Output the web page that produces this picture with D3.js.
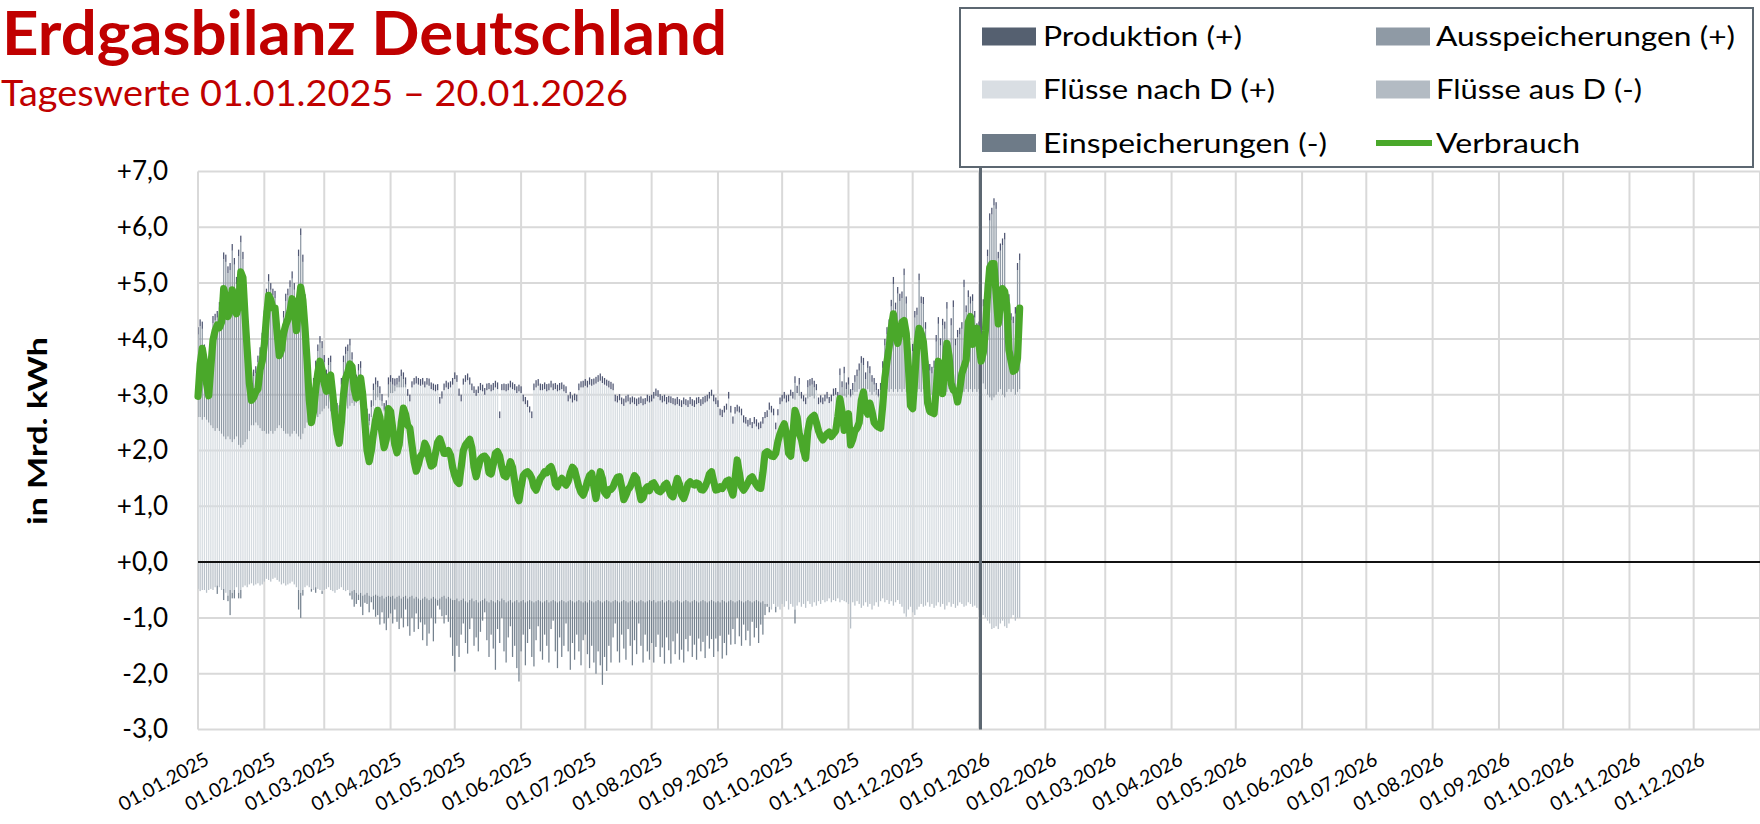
<!DOCTYPE html>
<html><head><meta charset="utf-8">
<script src="https://cdn.jsdelivr.net/npm/d3@7"></script>
<style>body{margin:0;background:#fff}svg{display:block}</style>
</head><body>
<svg id="c" width="1760" height="824"></svg>
<script>
// ---------- DATA (daily values, Mrd. kWh) ----------
const startDate = "2025-01-01";
const tickLabels = ["01.01.2025","01.02.2025","01.03.2025","01.04.2025","01.05.2025","01.06.2025","01.07.2025","01.08.2025","01.09.2025","01.10.2025","01.11.2025","01.12.2025","01.01.2026","01.02.2026","01.03.2026","01.04.2026","01.05.2026","01.06.2026","01.07.2026","01.08.2026","01.09.2026","01.10.2026","01.11.2026","01.12.2026"];
const yTicks = [7,6,5,4,3,2,1,0,-1,-2,-3];
const seriesNames = ["Produktion (+)","Ausspeicherungen (+)","Flüsse nach D (+)","Flüsse aus D (-)","Einspeicherungen (-)","Verbrauch"];

const verbrauch = [
2.97,3.55,3.83,3.6,3.2,2.98,3.5,3.98,4.15,4.25,4.2,4.3,4.9,4.75,4.4,4.5,4.88,4.75,4.45,4.6,5.2,5.1,4.4,3.8,3.2,2.9,2.95,3.05,3.1,3.45,3.6,
3.9,4.4,4.78,4.7,4.55,4.55,4.1,3.7,3.8,4.1,4.25,4.35,4.5,4.72,4.5,4.15,4.6,4.93,4.7,4.2,3.6,2.9,2.5,2.7,3.1,3.4,3.6,3.45,
3.2,3.06,3.3,3.35,3.0,2.6,2.3,2.13,2.5,3.0,3.3,3.4,3.55,3.5,3.1,2.94,3.15,3.3,3.0,2.5,2.0,1.8,2.0,2.3,2.55,2.72,2.6,2.3,2.05,2.2,2.75,
2.7,2.4,2.1,1.96,2.1,2.5,2.76,2.65,2.45,2.4,2.1,1.8,1.63,1.75,1.9,1.95,2.13,2.05,1.85,1.72,1.75,1.95,2.15,2.21,2.1,1.95,1.95,2.0,1.92,1.7,
1.55,1.45,1.41,1.7,2.0,2.1,2.15,2.2,2.05,1.7,1.53,1.7,1.85,1.89,1.9,1.85,1.6,1.58,1.75,1.95,1.98,1.9,1.7,1.55,1.53,1.65,1.8,1.7,1.45,1.2,1.1,
1.35,1.55,1.6,1.62,1.58,1.5,1.35,1.29,1.4,1.5,1.55,1.62,1.6,1.68,1.71,1.6,1.4,1.35,1.45,1.5,1.42,1.38,1.45,1.6,1.7,1.65,1.5,1.35,1.25,1.2,
1.3,1.45,1.55,1.59,1.35,1.14,1.4,1.62,1.5,1.25,1.2,1.3,1.3,1.35,1.45,1.52,1.53,1.35,1.12,1.2,1.3,1.35,1.45,1.55,1.5,1.3,1.12,1.15,1.3,1.35,1.28,
1.4,1.42,1.35,1.28,1.26,1.3,1.38,1.41,1.3,1.2,1.17,1.35,1.5,1.4,1.2,1.14,1.25,1.4,1.44,1.4,1.38,1.42,1.4,1.3,1.29,1.35,1.45,1.58,1.62,1.45,1.29,
1.3,1.35,1.32,1.38,1.45,1.47,1.3,1.2,1.5,1.83,1.6,1.35,1.29,1.35,1.42,1.5,1.53,1.45,1.38,1.33,1.32,1.6,1.95,1.98,1.95,1.9,1.89,1.95,2.16,2.3,
2.4,2.48,2.3,1.95,1.9,2.3,2.72,2.6,2.3,2.2,2.0,1.86,2.35,2.55,2.6,2.63,2.5,2.35,2.25,2.19,2.25,2.3,2.33,2.25,2.3,2.35,2.6,2.93,2.7,2.36,2.5,
2.66,2.1,2.2,2.35,2.4,2.5,2.9,3.05,2.75,2.65,2.85,2.7,2.5,2.45,2.42,2.4,2.8,3.3,3.6,3.85,4.2,4.45,4.1,3.92,4.1,4.3,4.33,4.1,3.5,2.8,
2.75,3.3,3.9,4.19,4.1,3.95,3.5,2.85,2.7,2.68,2.66,3.1,3.6,3.4,3.02,3.5,3.92,3.7,3.2,3.08,3.05,2.87,3.1,3.38,3.5,3.62,4.3,4.4,3.9,4.05,4.19,
3.9,3.6,3.75,4.15,4.8,5.28,5.35,5.35,4.8,4.27,4.6,4.9,4.85,4.6,3.8,3.6,3.42,3.45,3.65,4.55
];

const fluesseNachD = [
2.6,2.6,2.55,2.6,2.55,2.5,2.45,2.4,2.35,2.4,2.35,2.3,2.25,2.2,2.25,2.2,2.15,2.2,2.25,2.1,2.05,2.1,2.15,2.2,2.35,2.45,2.45,2.5,2.45,2.4,2.35,
2.35,2.3,2.3,2.35,2.3,2.35,2.4,2.45,2.4,2.35,2.3,2.3,2.25,2.3,2.35,2.3,2.25,2.2,2.3,2.4,2.5,2.6,2.65,2.7,2.65,2.6,2.65,2.7,
2.75,2.8,2.75,2.7,2.75,2.7,2.65,2.6,2.7,2.75,2.8,2.75,2.8,2.85,2.8,2.85,2.9,2.85,2.8,2.6,2.5,2.45,2.6,2.8,2.9,2.95,2.9,2.8,2.7,2.75,2.95,
3.03,3.03,3.06,3.13,3.13,3.13,3.13,3.13,2.98,2.88,3.13,3.18,3.2,3.18,3.16,3.18,3.13,3.18,3.16,3.1,3.08,3.06,3.08,2.84,2.93,3.08,3.13,3.1,3.13,3.18,
3.28,3.23,2.98,2.88,3.18,3.23,3.26,3.18,3.08,3.03,2.98,3.03,3.08,3.06,3.0,3.08,3.1,3.06,3.08,3.13,3.1,2.58,3.08,3.08,3.06,3.08,3.13,3.1,3.08,3.03,3.06,
3.03,2.88,2.83,2.78,2.68,2.58,3.08,3.13,3.16,3.08,3.08,3.1,3.06,3.08,3.13,3.08,3.1,3.06,3.08,3.1,3.06,3.03,2.88,2.93,2.86,2.9,2.88,3.08,3.13,3.13,
3.16,3.13,3.18,3.16,3.18,3.2,3.23,3.25,3.21,3.18,3.16,3.13,3.1,3.08,2.88,2.86,2.9,2.83,2.8,2.86,2.88,2.83,2.86,2.83,2.8,2.83,2.85,2.81,2.83,2.88,2.86,
2.88,2.93,2.98,2.96,2.9,2.86,2.88,2.83,2.86,2.85,2.83,2.81,2.83,2.8,2.78,2.83,2.81,2.78,2.83,2.8,2.78,2.83,2.85,2.8,2.83,2.86,2.88,2.93,2.98,2.88,2.83,
2.78,2.63,2.6,2.68,2.73,2.93,2.68,2.48,2.66,2.7,2.68,2.63,2.5,2.48,2.43,2.46,2.4,2.48,2.43,2.38,2.4,2.48,2.58,2.6,2.73,2.68,2.63,2.38,2.63,2.83,
2.88,2.93,2.86,2.88,2.98,2.93,2.91,3.03,2.98,2.93,2.88,2.83,2.93,2.96,2.98,2.93,3.08,2.83,2.86,2.83,2.88,2.93,2.85,2.88,2.98,3.0,2.93,2.9,2.93,2.98,2.95,
3.0,2.95,3.0,3.05,3.05,3.1,3.05,3.1,3.05,3.1,3.05,3.0,3.05,3.0,2.95,3.0,3.05,3.1,3.1,3.05,3.1,3.05,3.1,3.05,3.1,3.05,3.1,3.05,3.0,3.05,
3.05,3.1,3.05,3.1,3.05,3.1,3.05,3.0,3.05,3.0,3.05,3.1,3.05,3.1,3.05,3.1,3.05,3.1,3.05,3.1,3.05,3.0,3.05,3.1,3.05,3.1,3.05,3.1,3.05,3.1,3.05,
3.1,3.15,3.2,3.1,3.0,2.95,2.9,2.95,3.0,3.05,3.1,3.0,2.95,3.05,3.1,3.05,3.1,3.0,3.05,3.1
];

const ausspeicherungen = [
1.48,1.63,1.63,1.18,0.88,0.88,1.43,1.88,1.98,1.98,2.18,2.38,3.18,3.18,2.93,3.03,3.43,3.13,2.73,3.38,3.68,3.33,2.63,1.98,1.23,0.83,0.88,0.88,1.13,1.33,1.63,
2.03,2.48,2.73,2.53,2.48,2.38,1.88,1.33,1.58,2.03,2.38,2.48,2.68,2.78,2.53,2.28,3.23,3.66,3.08,2.28,1.38,0.68,0.33,0.48,0.83,1.18,1.28,1.13,
0.83,0.53,0.78,0.88,0.43,0.18,0.08,0.08,0.48,0.83,0.93,1.03,1.08,0.78,0.58,0.38,0.53,0.63,0.38,0.23,0.13,0.08,0.18,0.28,0.28,0.18,0.13,0.08,0.03,0.03,0.23,
0.2,0.15,0.1,0.05,0.1,0.2,0.15,0.05,0,0,0,0,0,0,0,0,0,0,0,0,0,0,0,0,0,0,0,0,0,0,
0,0,0,0,0,0,0,0,0,0,0,0,0,0,0,0,0,0,0,0,0,0,0,0,0,0,0,0,0,0,0,
0,0,0,0,0,0,0,0,0,0,0,0,0,0,0,0,0,0,0,0,0,0,0,0,0,0,0,0,0,0,
0,0,0,0,0,0,0,0,0,0,0,0,0,0,0,0,0,0,0,0,0,0,0,0,0,0,0,0,0,0,0,
0,0,0,0,0,0,0,0,0,0,0,0,0,0,0,0,0,0,0,0,0,0,0,0,0,0,0,0,0,0,0,
0,0,0,0,0,0,0,0,0,0,0,0,0,0,0,0,0,0,0,0,0,0,0,0,0,0,0,0,0,0,
0,0,0,0,0,0,0.3,0,0.2,0,0,0,0.2,0.2,0.2,0.2,0,0,0,0,0,0,0,0,0,0,0,0.45,0.2,0.4,0.15,
0.18,0.03,0.08,0.18,0.28,0.33,0.52,0.43,0.23,0.38,0.33,0.23,0.13,0.08,0.03,0.08,0.43,0.78,0.98,1.18,1.48,1.93,1.43,1.76,1.58,1.68,2.04,1.58,1.03,0.28,
0.73,1.28,1.38,1.95,1.59,1.52,1.13,0.48,0.38,0.38,0.43,0.85,1.22,0.78,1.19,1.08,1.49,0.73,1.19,1.47,0.83,1.03,1.03,1.08,1.88,1.38,1.7,1.53,1.63,1.28,1.1,
1.08,1.23,1.38,1.78,2.48,3.17,3.33,3.44,3.33,2.39,2.48,2.68,2.83,1.68,1.58,1.28,1.18,1.45,2.18,2.31
];

const produktion = [
0.13,0.12,0.13,0.12,0.12,0.13,0.12,0.13,0.12,0.12,0.13,0.12,0.12,0.13,0.12,0.13,0.12,0.12,0.13,0.12,0.12,0.13,0.12,0.12,0.13,0.12,0.12,0.13,0.12,0.12,0.13,
0.13,0.12,0.13,0.12,0.12,0.13,0.12,0.13,0.12,0.12,0.13,0.12,0.12,0.13,0.12,0.13,0.12,0.12,0.13,0.12,0.12,0.13,0.12,0.12,0.13,0.12,0.12,0.13,
0.13,0.12,0.13,0.12,0.12,0.13,0.12,0.13,0.12,0.12,0.13,0.12,0.12,0.13,0.12,0.13,0.12,0.12,0.13,0.12,0.12,0.13,0.12,0.12,0.13,0.12,0.12,0.13,0.12,0.12,0.13,
0.12,0.12,0.13,0.12,0.11,0.12,0.12,0.13,0.12,0.12,0.11,0.12,0.13,0.12,0.12,0.12,0.11,0.12,0.13,0.12,0.12,0.12,0.11,0.12,0.13,0.12,0.12,0.12,0.11,0.12,
0.12,0.12,0.13,0.12,0.11,0.12,0.12,0.13,0.12,0.12,0.11,0.12,0.13,0.12,0.12,0.12,0.11,0.12,0.13,0.12,0.12,0.12,0.11,0.12,0.13,0.12,0.12,0.12,0.11,0.12,0.12,
0.12,0.12,0.13,0.12,0.11,0.12,0.12,0.13,0.12,0.12,0.11,0.12,0.13,0.12,0.12,0.12,0.11,0.12,0.13,0.12,0.12,0.12,0.11,0.12,0.13,0.12,0.12,0.12,0.11,0.12,
0.12,0.12,0.13,0.12,0.11,0.12,0.12,0.13,0.12,0.12,0.11,0.12,0.13,0.12,0.12,0.12,0.11,0.12,0.13,0.12,0.12,0.12,0.11,0.12,0.13,0.12,0.12,0.12,0.11,0.12,0.12,
0.12,0.12,0.13,0.12,0.11,0.12,0.12,0.13,0.12,0.12,0.11,0.12,0.13,0.12,0.12,0.12,0.11,0.12,0.13,0.12,0.12,0.12,0.11,0.12,0.13,0.12,0.12,0.12,0.11,0.12,0.12,
0.12,0.12,0.13,0.12,0.11,0.12,0.12,0.13,0.12,0.12,0.11,0.12,0.13,0.12,0.12,0.12,0.11,0.12,0.13,0.12,0.12,0.12,0.11,0.12,0.13,0.12,0.12,0.12,0.11,0.12,
0.12,0.12,0.13,0.12,0.11,0.12,0.12,0.13,0.12,0.12,0.11,0.12,0.13,0.12,0.12,0.12,0.11,0.12,0.13,0.12,0.12,0.12,0.11,0.12,0.13,0.12,0.12,0.12,0.11,0.12,0.12,
0.13,0.12,0.13,0.12,0.12,0.13,0.12,0.13,0.12,0.12,0.13,0.12,0.12,0.13,0.12,0.13,0.12,0.12,0.13,0.12,0.12,0.13,0.12,0.12,0.13,0.12,0.12,0.13,0.12,0.12,
0.13,0.12,0.13,0.12,0.12,0.13,0.12,0.13,0.12,0.12,0.13,0.12,0.12,0.13,0.12,0.13,0.12,0.12,0.13,0.12,0.12,0.13,0.12,0.12,0.13,0.12,0.12,0.13,0.12,0.12,0.13,
0.13,0.12,0.13,0.12,0.12,0.13,0.12,0.13,0.12,0.12,0.13,0.12,0.12,0.13,0.12,0.13,0.12,0.12,0.13,0.12
];

const fluesseAusD = [
-0.48,-0.52,-0.5,-0.5,-0.55,-0.5,-0.48,-0.5,-0.45,-0.42,-0.45,-0.5,-0.48,-0.55,-0.6,-0.5,-0.55,-0.5,-0.45,-0.55,-0.5,-0.45,-0.42,-0.45,-0.4,-0.38,-0.42,-0.4,-0.38,-0.42,-0.4,
-0.35,-0.3,-0.32,-0.35,-0.3,-0.28,-0.32,-0.35,-0.4,-0.38,-0.42,-0.4,-0.38,-0.35,-0.4,-0.45,-0.5,-0.55,-0.5,-0.45,-0.42,-0.45,-0.48,-0.5,-0.45,-0.48,-0.5,-0.52,
-0.5,-0.48,-0.45,-0.5,-0.52,-0.55,-0.5,-0.48,-0.45,-0.5,-0.52,-0.5,-0.55,-0.52,-0.5,-0.55,-0.58,-0.55,-0.6,-0.58,-0.55,-0.6,-0.62,-0.6,-0.58,-0.6,-0.62,-0.6,-0.65,-0.62,-0.6,
-0.62,-0.6,-0.65,-0.62,-0.6,-0.65,-0.62,-0.6,-0.65,-0.62,-0.6,-0.65,-0.62,-0.65,-0.68,-0.65,-0.62,-0.65,-0.68,-0.65,-0.62,-0.65,-0.68,-0.65,-0.62,-0.6,-0.65,-0.62,-0.65,-0.68,
-0.68,-0.65,-0.7,-0.68,-0.65,-0.7,-0.72,-0.68,-0.65,-0.7,-0.68,-0.72,-0.7,-0.68,-0.65,-0.7,-0.72,-0.68,-0.7,-0.72,-0.68,-0.7,-0.65,-0.68,-0.72,-0.7,-0.68,-0.72,-0.7,-0.68,-0.72,
-0.7,-0.68,-0.72,-0.7,-0.68,-0.7,-0.72,-0.7,-0.68,-0.7,-0.72,-0.7,-0.68,-0.72,-0.7,-0.68,-0.7,-0.72,-0.7,-0.68,-0.7,-0.72,-0.7,-0.68,-0.7,-0.72,-0.7,-0.68,-0.7,-0.72,
-0.7,-0.72,-0.68,-0.7,-0.72,-0.7,-0.68,-0.7,-0.72,-0.7,-0.68,-0.7,-0.72,-0.7,-0.68,-0.7,-0.72,-0.7,-0.68,-0.7,-0.72,-0.7,-0.68,-0.7,-0.72,-0.7,-0.68,-0.7,-0.72,-0.7,-0.68,
-0.7,-0.68,-0.72,-0.7,-0.7,-0.68,-0.72,-0.7,-0.68,-0.7,-0.72,-0.7,-0.68,-0.7,-0.72,-0.7,-0.68,-0.7,-0.72,-0.7,-0.68,-0.7,-0.72,-0.7,-0.68,-0.7,-0.72,-0.7,-0.68,-0.7,-0.72,
-0.7,-0.72,-0.68,-0.7,-0.72,-0.7,-0.68,-0.7,-0.72,-0.7,-0.68,-0.7,-0.72,-0.7,-0.68,-0.7,-0.72,-0.7,-0.68,-0.7,-0.72,-0.7,-0.75,-0.75,-0.8,-0.85,-0.75,-0.8,-0.8,-0.85,
-0.75,-0.8,-0.7,-0.85,-0.75,-0.8,-0.85,-0.78,-0.72,-0.8,-0.75,-0.82,-0.7,-0.75,-0.8,-0.72,-0.78,-0.7,-0.75,-0.68,-0.72,-0.7,-0.65,-0.72,-0.68,-0.7,-0.65,-0.72,-0.68,-0.7,-0.72,
-0.75,-1.19,-0.72,-0.78,-0.7,-0.75,-0.82,-0.78,-0.72,-0.8,-0.75,-0.85,-0.78,-0.72,-0.8,-0.7,-0.65,-0.72,-0.68,-0.75,-0.7,-0.78,-0.72,-0.68,-0.75,-0.8,-0.92,-0.98,-0.85,-0.8,
-0.9,-0.95,-0.85,-0.8,-0.75,-0.8,-0.78,-0.72,-0.8,-0.75,-0.82,-0.78,-0.72,-0.8,-0.75,-0.85,-0.78,-0.72,-0.8,-0.75,-0.82,-0.78,-0.72,-0.75,-0.8,-0.78,-0.72,-0.75,-0.8,-0.78,-0.82,
-0.85,-0.9,-0.95,-1.0,-1.05,-1.1,-1.2,-1.18,-1.15,-1.2,-1.1,-1.05,-1.15,-1.18,-1.1,-1.0,-0.95,-1.05,-1.0,-1.0
];

const einspeicherungen = [
0,0,0,0,0,0,0,0,0,-0.15,0,0,-0.2,0,-0.1,-0.45,-0.1,-0.15,0,-0.1,-0.15,0,0,0,0,0,0,0,0,0,0,
0,0,0,0,0,0,0,0,0,0,0,0,0,0,0,0,-0.35,-0.45,-0.1,0,0,0,-0.05,0,-0.1,0,0,-0.05,
0,0,0,0,0,0,0,0,0,0,0,0,-0.05,-0.15,-0.3,-0.2,-0.1,-0.25,-0.35,-0.15,-0.2,-0.3,-0.1,-0.25,-0.4,-0.35,-0.5,-0.3,-0.45,-0.6,-0.4,
-0.3,-0.5,-0.2,-0.45,-0.6,-0.35,-0.55,-0.25,-0.5,-0.7,-0.4,-0.6,-0.3,-0.55,-0.4,-0.75,-0.5,-0.85,-0.6,-0.35,-0.8,-0.45,-0.1,-0.2,-0.35,-0.5,-0.3,-0.45,-0.7,-1.0,
-1.28,-0.85,-1.0,-0.62,-0.45,-0.75,-0.92,-0.52,-0.35,-0.8,-0.67,-0.88,-0.55,-0.37,-0.25,-0.7,-0.98,-0.62,-0.85,-1.21,-0.52,-0.75,-0.35,-0.92,-1.08,-0.65,-0.47,-0.98,-0.8,-1.22,-1.42,
-0.9,-0.62,-1.13,-0.75,-0.52,-1.0,-1.15,-0.7,-0.47,-0.9,-1.03,-0.6,-0.82,-1.08,-0.5,-0.37,-0.9,-1.18,-0.65,-1.02,-0.8,-0.38,-0.9,-1.25,-0.75,-1.03,-0.6,-0.92,-1.15,-0.68,
-0.6,-0.93,-1.22,-0.8,-1.08,-1.3,-0.92,-1.15,-1.48,-1.0,-1.27,-0.8,-1.08,-0.65,-0.42,-0.9,-1.08,-0.6,-0.87,-1.05,-0.48,-0.8,-1.17,-0.7,-0.93,-0.4,-0.82,-1.1,-0.58,-0.9,-1.07,
-0.75,-1.12,-0.8,-0.6,-1.0,-0.85,-1.1,-0.65,-0.9,-1.12,-0.7,-0.95,-0.6,-1.05,-0.85,-1.1,-0.7,-0.9,-0.6,-1.0,-0.8,-1.05,-0.65,-0.9,-0.75,-1.02,-0.6,-0.85,-0.7,-1.0,-0.65,
-0.9,-0.6,-1.05,-0.75,-0.95,-0.6,-0.8,-0.5,-0.75,-0.3,-0.65,-0.8,-0.4,-0.7,-0.55,-0.8,-0.35,-0.65,-0.5,-0.75,-0.4,-0.6,-0.2,-0.05,-0.1,0,0,-0.1,0,0,
0,0,0,0,0,0,-0.25,0,0,0,0,0,0,0,0,0,0,0,0,0,0,0,0,0,0,0,0,0,0,0,0,
0,0,0,0,0,0,0,0,0,0,0,0,0,0,0,0,0,0,0,0,0,0,0,0,0,0,0,0,0,0,
0,0,0,0,0,0,0,0,0,0,0,0,0,0,0,0,0,0,0,0,0,0,0,0,0,0,0,0,0,0,0,
0,0,0,0,0,0,0,0,0,0,0,0,0,0,0,0,0,0,0,0
];

// ---------- STYLE ----------
const COL = {
  prod:"#4f5672", aus:"#8f9aa5", nach:"#d6dce1", ausD:"#b8c0c8", ein:"#75828f",
  verb:"#4aa82a", grid:"#d9d9d9", title:"#c00000", vline:"#5c6771"
};
const LEG = {prod:"#556070", aus:"#8f9aa5", nach:"#d9dee3", ausD:"#b3bbc3", ein:"#6e7b88", verb:"#4aa82a"};
const FONT = "Lato, 'Open Sans', 'Liberation Sans', sans-serif";

const svg = d3.select("#c");
const M = {left:198, right:1760, top:171.5, bottom:729.5};
const parseISO = d3.utcParse("%Y-%m-%d");
const parseDE = d3.utcParse("%d.%m.%Y");
const t0 = parseISO(startDate);
const dates = verbrauch.map((_, i) => d3.utcDay.offset(t0, i));
const monthTicks = tickLabels.map(parseDE);

const x = d3.scaleUtc().domain([t0, parseISO("2027-01-01")]).range([M.left, M.right]);
const y = d3.scaleLinear().domain([-3, 7]).range([M.bottom, M.top]);

// sanity
const lens = [verbrauch, fluesseNachD, ausspeicherungen, produktion, fluesseAusD, einspeicherungen].map(a => a.length);
if (lens.some(l => l !== lens[0])) svg.append("text").attr("x", 10).attr("y", 815).attr("font-size", 12).text("len " + lens.join(","));

// clip
svg.append("clipPath").attr("id", "plot").append("rect")
  .attr("x", M.left).attr("y", M.top - 10).attr("width", M.right - M.left).attr("height", M.bottom - M.top + 10);

// grid
const grid = svg.append("g");
grid.selectAll("line.h").data(yTicks).join("line")
  .attr("x1", M.left).attr("x2", M.right)
  .attr("y1", d => y(d)).attr("y2", d => y(d))
  .attr("stroke", COL.grid).attr("stroke-width", 2);
grid.selectAll("line.v").data(monthTicks.concat([parseISO("2027-01-01")])).join("line")
  .attr("x1", d => x(d)).attr("x2", d => x(d))
  .attr("y1", M.top).attr("y2", M.bottom)
  .attr("stroke", COL.grid).attr("stroke-width", 2);

// stacked bars
const rows = dates.map((d, i) => {
  const n = fluesseNachD[i], a = ausspeicherungen[i], p = produktion[i];
  const f = fluesseAusD[i], e = einspeicherungen[i];
  return {d, segs: [
    {k:"nach", y0:0, y1:n},
    {k:"aus", y0:n, y1:n + a},
    {k:"prod", y0:n + a, y1:n + a + p},
    {k:"ausD", y0:0, y1:f},
    {k:"ein", y0:f, y1:f + e}
  ]};
});
const bw = 1.25;
const bars = svg.append("g").attr("clip-path", "url(#plot)");
const segs = rows.flatMap(r => r.segs.filter(s => s.y1 !== s.y0).map(s => ({d:r.d, ...s})));
bars.selectAll("rect").data(segs).join("rect")
  .attr("x", s => x(s.d) - bw / 2)
  .attr("width", bw)
  .attr("y", s => y(Math.max(s.y0, s.y1)))
  .attr("height", s => Math.abs(y(s.y0) - y(s.y1)))
  .attr("fill", s => COL[s.k]);

// zero line
svg.append("line").attr("x1", M.left).attr("x2", M.right).attr("y1", y(0)).attr("y2", y(0))
  .attr("stroke", "#111").attr("stroke-width", 2);

// year divider
const x26 = x(parseISO("2026-01-01")) + 1.5;
svg.append("line").attr("x1", x26).attr("x2", x26).attr("y1", 166).attr("y2", M.bottom)
  .attr("stroke", COL.vline).attr("stroke-width", 3);

// consumption line
svg.append("path").datum(verbrauch)
  .attr("d", d3.line().x((v, i) => x(dates[i])).y(v => y(v)))
  .attr("fill", "none").attr("stroke", COL.verb).attr("stroke-width", 7.2)
  .attr("stroke-linejoin", "round").attr("stroke-linecap", "round");

// y axis
const fmtY = v => (v < 0 ? "-" : "+") + Math.abs(v).toFixed(1).replace(".", ",");
const gy = svg.append("g").attr("transform", `translate(${M.left},0)`)
  .call(d3.axisLeft(y).tickValues(yTicks).tickSize(0).tickPadding(30).tickFormat(fmtY));
gy.select(".domain").remove();
gy.selectAll("text").attr("font-family", FONT).attr("font-size", 26).attr("fill", "#000");

// x axis
const gx = svg.append("g").attr("transform", `translate(0,${M.bottom})`)
  .call(d3.axisBottom(x).tickValues(monthTicks).tickSize(0).tickFormat((d, i) => tickLabels[i]));
gx.select(".domain").remove();
gx.selectAll("text").attr("x", null).attr("y", null).attr("dy", null)
  .attr("transform", "translate(12,34) rotate(-29)")
  .attr("text-anchor", "end")
  .attr("font-family", FONT).attr("font-size", 19.5).attr("fill", "#000");

// y title
svg.append("text").attr("transform", "translate(47,431) rotate(-90)")
  .attr("text-anchor", "middle").attr("font-family", FONT).attr("font-weight", 700)
  .attr("font-size", 26).attr("textLength", 188).attr("lengthAdjust", "spacingAndGlyphs")
  .text("in Mrd. kWh");

// titles
svg.append("text").attr("x", 2).attr("y", 55).attr("font-family", FONT).attr("font-weight", 700)
  .attr("font-size", 62).attr("fill", COL.title).attr("textLength", 725).attr("lengthAdjust", "spacingAndGlyphs")
  .text("Erdgasbilanz Deutschland");
svg.append("text").attr("x", 1).attr("y", 106).attr("font-family", FONT)
  .attr("font-size", 37).attr("fill", COL.title).attr("textLength", 627).attr("lengthAdjust", "spacingAndGlyphs")
  .text("Tageswerte 01.01.2025 \u2013 20.01.2026");

// legend
const lg = svg.append("g");
lg.append("rect").attr("x", 960).attr("y", 8).attr("width", 793).attr("height", 159)
  .attr("fill", "#fff").attr("stroke", COL.vline).attr("stroke-width", 2);
const legendItems = [
  {name:seriesNames[0], c:LEG.prod, col:0, row:0, w:199},
  {name:seriesNames[1], c:LEG.aus, col:1, row:0, w:299},
  {name:seriesNames[2], c:LEG.nach, col:0, row:1, w:232},
  {name:seriesNames[3], c:LEG.ausD, col:1, row:1, w:206},
  {name:seriesNames[4], c:LEG.ein, col:0, row:2, w:284},
  {name:seriesNames[5], c:LEG.verb, col:1, row:2, w:144, line:true}
];
const colX = [982, 1376], textX = [1043, 1436], rowBase = [46, 99, 152.5];
const li = lg.selectAll("g.li").data(legendItems).join("g");
li.each(function(d) {
  const g = d3.select(this);
  if (d.line) {
    g.append("line").attr("x1", colX[d.col]).attr("x2", colX[d.col] + 56)
      .attr("y1", rowBase[d.row] - 9.5).attr("y2", rowBase[d.row] - 9.5)
      .attr("stroke", d.c).attr("stroke-width", 6);
  } else {
    g.append("rect").attr("x", colX[d.col]).attr("y", rowBase[d.row] - 18.5)
      .attr("width", 54).attr("height", 18).attr("fill", d.c);
  }
  g.append("text").attr("x", textX[d.col]).attr("y", rowBase[d.row])
    .attr("font-family", FONT).attr("font-size", 27).attr("fill", "#000")
    .attr("textLength", d.w).attr("lengthAdjust", "spacingAndGlyphs").text(d.name);
});
</script>
</body></html>
